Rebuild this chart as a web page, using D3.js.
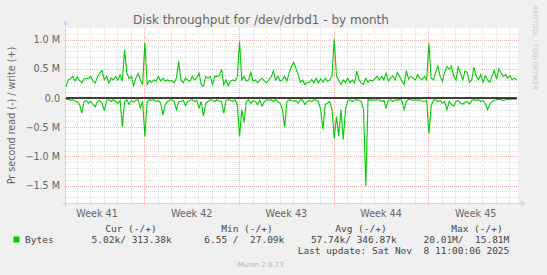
<!DOCTYPE html>
<html>
<head>
<meta charset="utf-8">
<script src="https://cdn.jsdelivr.net/npm/d3@7"></script>
<style>
  html, body { margin: 0; padding: 0; background: #f0f0f0; }
  svg text { white-space: pre; }
</style>
</head>
<body>
<div id="chart"></div>
<script>
// munin diskstats throughput, 4h samples, values in MB/s
const sampleStart = new Date(Date.UTC(2025, 9, 7, 5, 0))
const sampleHours = 4

const writeM = [
  0.19,0.31,0.33,0.37,0.29,0.36,0.30,0.26,0.33,0.33,
  0.34,0.37,0.29,0.26,0.37,0.43,0.47,0.31,0.37,0.26,
  0.34,0.31,0.37,0.31,0.40,0.29,0.83,0.43,0.33,0.37,
  0.21,0.34,0.42,0.31,0.23,0.95,0.23,0.30,0.27,0.31,
  0.29,0.37,0.29,0.34,0.29,0.31,0.29,0.30,0.26,0.34,
  0.63,0.31,0.26,0.34,0.31,0.29,0.37,0.31,0.34,0.43,
  0.23,0.20,0.37,0.34,0.37,0.23,0.37,0.37,0.38,0.49,
  0.23,0.31,0.21,0.29,0.31,0.29,0.37,0.97,0.31,0.37,
  0.29,0.31,0.44,0.29,0.31,0.26,0.31,0.34,0.29,0.26,
  0.31,0.36,0.46,0.31,0.37,0.29,0.31,0.37,0.29,0.43,
  0.54,0.61,0.51,0.40,0.27,0.31,0.23,0.26,0.27,0.32,
  0.26,0.34,0.26,0.33,0.27,0.34,0.29,0.31,0.37,1.01,
  0.37,0.31,0.23,0.31,0.27,0.34,0.26,0.31,0.26,0.46,
  0.31,0.26,0.23,0.34,0.27,0.31,0.29,0.33,0.37,0.31,
  0.37,0.31,0.43,0.29,0.34,0.38,0.31,0.44,0.37,0.29,
  0.23,0.47,0.32,0.37,0.34,0.31,0.40,0.34,0.31,0.37,
  0.31,0.94,0.34,0.31,0.44,0.55,0.37,0.29,0.44,0.54,
  0.49,0.55,0.37,0.31,0.53,0.43,0.31,0.46,0.44,0.27,
  0.31,0.53,0.37,0.31,0.40,0.27,0.38,0.31,0.27,0.37,
  0.47,0.32,0.50,0.43,0.37,0.40,0.34,0.38,0.31,0.34,
  0.31
]

const readM = [
  0.03,0.02,0.04,0.03,0.05,0.06,0.11,0.26,0.06,0.04,
  0.09,0.06,0.11,0.15,0.06,0.04,0.09,0.22,0.04,0.03,
  0.06,0.03,0.06,0.09,0.04,0.49,0.06,0.03,0.11,0.04,
  0.07,0.04,0.03,0.17,0.06,0.66,0.06,0.03,0.04,0.03,
  0.06,0.04,0.09,0.29,0.11,0.06,0.04,0.03,0.06,0.20,
  0.06,0.06,0.04,0.13,0.06,0.04,0.03,0.06,0.04,0.17,
  0.06,0.31,0.09,0.06,0.03,0.04,0.06,0.03,0.05,0.06,
  0.26,0.04,0.03,0.04,0.06,0.03,0.11,0.66,0.20,0.42,
  0.06,0.03,0.09,0.04,0.06,0.11,0.04,0.14,0.06,0.03,
  0.04,0.03,0.06,0.03,0.06,0.09,0.20,0.50,0.06,0.03,
  0.04,0.06,0.04,0.09,0.03,0.04,0.11,0.06,0.04,0.06,
  0.03,0.04,0.06,0.20,0.54,0.11,0.09,0.06,0.20,0.69,
  0.32,0.65,0.20,0.71,0.20,0.04,0.03,0.06,0.04,0.03,
  0.04,0.06,0.20,1.51,0.02,0.04,0.03,0.04,0.03,0.03,
  0.06,0.04,0.17,0.04,0.03,0.06,0.03,0.04,0.02,0.04,
  0.20,0.06,0.02,0.03,0.04,0.03,0.04,0.03,0.05,0.06,
  0.04,0.61,0.14,0.04,0.03,0.06,0.04,0.09,0.06,0.20,
  0.06,0.11,0.14,0.06,0.04,0.09,0.11,0.07,0.06,0.10,
  0.04,0.03,0.04,0.03,0.06,0.04,0.09,0.20,0.11,0.06,
  0.04,0.03,0.02,0.03,0.04,0.03,0.02,0.03,0.02,0.02,
  0.02
]

const yTicks = [-1.5, -1.0, -0.5, 0, 0.5, 1.0]
const legendHeaders = ['Cur (-/+)', 'Min (-/+)', 'Avg (-/+)', 'Max (-/+)']
const legendValues = ['5.02k/ 313.38k', '6.55 /  27.09k', '57.74k/ 346.87k', '20.01M/  15.81M']
const seriesName = 'Bytes'
const lastUpdate = 'Last update: Sat Nov  8 11:00:06 2025'

const width = 547
const height = 275
const plot = {left: 66, right: 517, top: 28, bottom: 203}
const colEnds = [156.7, 272.7, 386.7, 502.7]
const valEnds = [171.7, 284.3, 396.7, 509.3]

const svg = d3.select('#chart')
  .append('svg')
  .attr('width', width)
  .attr('height', height)
  .style('display', 'block')

svg.append('rect').attr('width', width).attr('height', height).attr('fill', '#f0f0f0')

const tStart = sampleStart
const tEnd = new Date(Date.UTC(2025, 10, 9, 13, 20))

const x = d3.scaleUtc().domain([tStart, tEnd]).range([plot.left, plot.right])
const y = d3.scaleLinear().domain([-1.8, 1.2]).range([plot.bottom, plot.top])

const timeAt = i => d3.utcHour.offset(sampleStart, i * sampleHours)

// canvas
svg.append('rect')
  .attr('x', plot.left).attr('y', plot.top)
  .attr('width', plot.right - plot.left + 1)
  .attr('height', plot.bottom - plot.top)
  .attr('fill', '#ffffff')

const grid = svg.append('g').attr('shape-rendering', 'crispEdges')

// minor grid: every 0.1M and every day
const minorY = d3.range(-17, 12).map(v => v / 10).filter(v => Math.abs(v * 2 - Math.round(v * 2)) > 1e-6)
grid.selectAll('.hminor')
  .data(minorY)
  .enter().append('line')
  .attr('x1', plot.left - 2).attr('x2', plot.right + 2)
  .attr('y1', d => Math.round(y(d)) + 0.5).attr('y2', d => Math.round(y(d)) + 0.5)
  .attr('stroke', '#dcdcdc').attr('stroke-dasharray', '1,1')

const days = d3.utcDay.range(d3.utcDay.ceil(tStart), tEnd).filter(d => d.getUTCDay() !== 1)
grid.selectAll('.vminor')
  .data(days)
  .enter().append('line')
  .attr('y1', plot.top).attr('y2', plot.bottom + 2)
  .attr('x1', d => Math.round(x(d)) + 0.5).attr('x2', d => Math.round(x(d)) + 0.5)
  .attr('stroke', '#dcdcdc').attr('stroke-dasharray', '1,1')

// major grid
grid.selectAll('.hmajor')
  .data(yTicks)
  .enter().append('line')
  .attr('x1', plot.left - 2).attr('x2', plot.right + 2)
  .attr('y1', d => Math.round(y(d)) + 0.5).attr('y2', d => Math.round(y(d)) + 0.5)
  .attr('stroke', '#efb4b4').attr('stroke-dasharray', '1,1')

const mondays = d3.utcMonday.range(tStart, tEnd)
grid.selectAll('.vmajor')
  .data(mondays)
  .enter().append('line')
  .attr('y1', plot.top).attr('y2', plot.bottom + 3)
  .attr('x1', d => Math.round(x(d)) + 0.5).attr('x2', d => Math.round(x(d)) + 0.5)
  .attr('stroke', '#efb4b4').attr('stroke-dasharray', '1,1')

// axes (munin style arrows)
const axisColor = '#cfd6f8'
svg.append('line')
  .attr('x1', plot.left - 0.5).attr('x2', plot.left - 0.5)
  .attr('y1', plot.bottom + 4).attr('y2', plot.top - 6)
  .attr('stroke', axisColor)
svg.append('line')
  .attr('x1', plot.left - 4).attr('x2', plot.right + 5)
  .attr('y1', plot.bottom + 0.5).attr('y2', plot.bottom + 0.5)
  .attr('stroke', axisColor)
svg.append('path')
  .attr('d', `M${plot.left - 3.5},${plot.top - 3} L${plot.left - 0.5},${plot.top - 8} L${plot.left + 2.5},${plot.top - 3} Z`)
  .attr('fill', axisColor)
svg.append('path')
  .attr('d', `M${plot.right + 4},${plot.bottom - 2.5} L${plot.right + 9},${plot.bottom + 0.5} L${plot.right + 4},${plot.bottom + 3.5} Z`)
  .attr('fill', axisColor)

// y tick labels
svg.append('g')
  .attr('font-family', 'DejaVu Sans')
  .attr('font-size', 9.6)
  .attr('fill', '#666666')
  .attr('text-anchor', 'end')
  .selectAll('text')
  .data(yTicks)
  .enter().append('text')
  .attr('x', 60)
  .attr('y', d => y(d) + 3.6)
  .text(d => d === 0 ? '0.0' : d3.format('.1f')(d) + ' M')

// x labels: centered in each ISO week
const weekStarts = d3.utcMonday.range(d3.utcMonday.floor(tStart), tEnd)
svg.append('g')
  .attr('font-family', 'DejaVu Sans')
  .attr('font-size', 9.6)
  .attr('fill', '#666666')
  .attr('text-anchor', 'middle')
  .selectAll('text')
  .data(weekStarts.map(d => d3.utcHour.offset(d, 84)).filter(d => d > tStart && d < tEnd))
  .enter().append('text')
  .attr('x', d => x(d))
  .attr('y', 216.5)
  .text(d => 'Week ' + d3.utcFormat('%V')(d))

// series
const green = '#00cc00'
const lineGen = d3.line().x(d => x(d.t)).y(d => y(d.v))
const writeData = writeM.map((v, i) => ({t: timeAt(i), v: v}))
const readData = readM.map((v, i) => ({t: timeAt(i), v: -v}))

svg.append('path').datum(readData)
  .attr('d', lineGen).attr('fill', 'none').attr('stroke', green).attr('stroke-width', 1.1)
svg.append('path').datum(writeData)
  .attr('d', lineGen).attr('fill', 'none').attr('stroke', green).attr('stroke-width', 1.1)

svg.append('line')
  .attr('x1', plot.left).attr('x2', x(timeAt(writeM.length - 1)))
  .attr('y1', y(0)).attr('y2', y(0))
  .attr('stroke', '#000000').attr('stroke-width', 1.4)

// title
svg.append('text')
  .attr('x', 261).attr('y', 23.5)
  .attr('text-anchor', 'middle')
  .attr('font-family', 'DejaVu Sans')
  .attr('font-size', 12)
  .attr('fill', '#666666')
  .text('Disk throughput for /dev/drbd1 - by month')

// vertical label
svg.append('text')
  .attr('transform', `translate(14.5,${(plot.top + plot.bottom) / 2}) rotate(-90)`)
  .attr('text-anchor', 'middle')
  .attr('font-family', 'DejaVu Sans')
  .attr('font-size', 9.6)
  .attr('fill', '#666666')
  .text('Pr second read (-) / write (+)')

svg.append('text')
  .attr('transform', 'translate(533,5) rotate(90)')
  .attr('font-family', 'DejaVu Sans')
  .attr('font-size', 6.6)
  .attr('fill', '#c8c8c8')
  .text('RRDTOOL / TOBI OETIKER')

// legend
const legend = svg.append('g')
  .attr('font-family', 'DejaVu Sans Mono')
  .attr('font-size', 9.5)
  .attr('fill', '#444444')

legend.selectAll('.hdr')
  .data(legendHeaders)
  .enter().append('text')
  .attr('x', (d, i) => colEnds[i])
  .attr('y', 231.5)
  .attr('text-anchor', 'end')
  .text(d => d)

legend.append('rect')
  .attr('x', 13.5).attr('y', 236.5)
  .attr('width', 6).attr('height', 6)
  .attr('fill', green)

legend.append('text')
  .attr('x', 25).attr('y', 243)
  .text(seriesName)

legend.selectAll('.val')
  .data(legendValues)
  .enter().append('text')
  .attr('x', (d, i) => valEnds[i])
  .attr('y', 243)
  .attr('text-anchor', 'end')
  .text(d => d)

legend.append('text')
  .attr('x', 509.3).attr('y', 254.3)
  .attr('text-anchor', 'end')
  .text(lastUpdate)

svg.append('text')
  .attr('x', 260.7).attr('y', 267)
  .attr('text-anchor', 'middle')
  .attr('font-family', 'DejaVu Sans')
  .attr('font-size', 7)
  .attr('fill', '#b4b4b4')
  .text('Munin 2.0.73')
</script>
</body>
</html>
